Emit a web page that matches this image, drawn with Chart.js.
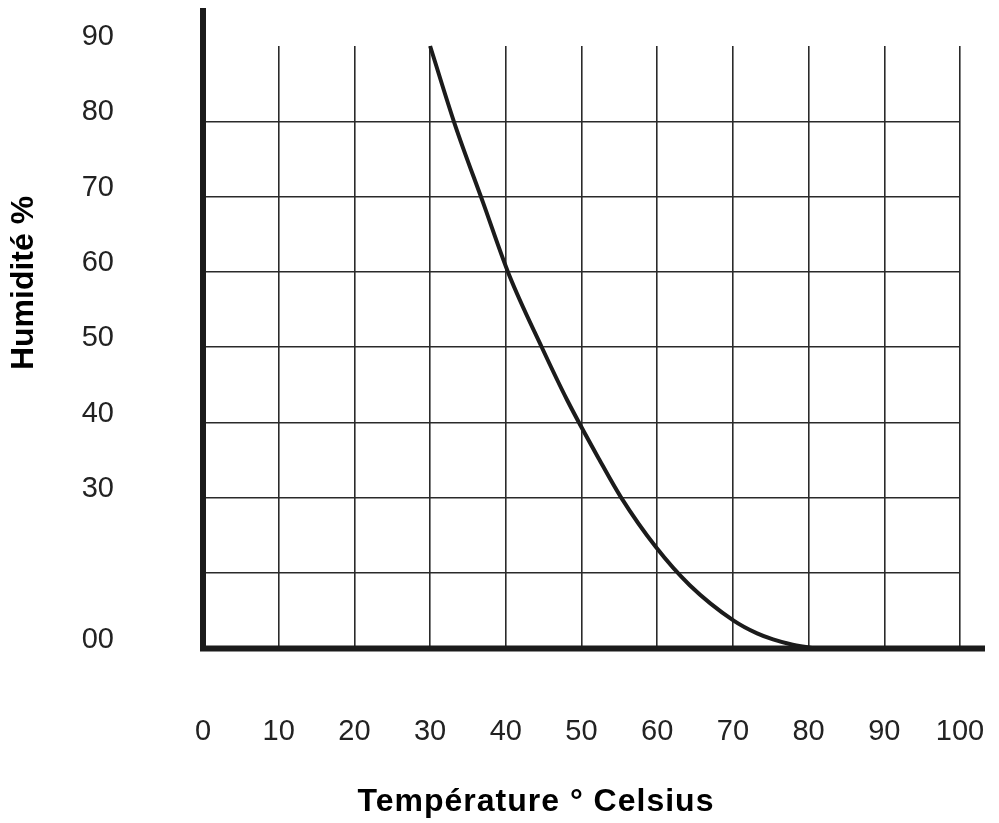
<!DOCTYPE html>
<html>
<head>
<meta charset="utf-8">
<script src="https://cdn.jsdelivr.net/npm/chart.js@4.4.1/dist/chart.umd.min.js"></script>
<style>
  html, body { margin: 0; padding: 0; background: #fff; }
  #wrap { width: 999px; height: 823px; }
</style>
</head>
<body>
<div id="wrap"><canvas id="myChart"></canvas></div>
<script>
// Curve: temperature (°C) -> humidity (%)
let aTemp = [30, 33.3, 37, 40.4, 44.8, 48.1, 52.4, 55.2, 59.8, 64.3, 70.1, 73.2, 75.3, 77.5, 80.7];
let aHumidity = [90, 79.5, 69.2, 59.7, 49.9, 43.0, 35.0, 30.1, 23.5, 18.4, 13.7, 12.0, 11.2, 10.6, 10];

// Tick values and the labels printed next to them
let aXTicks = [0, 10, 20, 30, 40, 50, 60, 70, 80, 90, 100];
let aXLabels = ['0', '10', '20', '30', '40', '50', '60', '70', '80', '90', '100'];
let aYTicks = [10, 20, 30, 40, 50, 60, 70, 80, 90];
let aYLabels = ['00', '', '30', '40', '50', '60', '70', '80', '90'];

let xTitle = 'Température ° Celsius';
let yTitle = 'Humidité %';

const ink = '#1b1b1b';
const tickFont = { family: "'Liberation Sans', Arial, sans-serif", size: 29 };

// thick axes running past the grid, plus the two axis titles
const axesPlugin = {
    id: 'axesPlugin',
    afterDraw(chart) {
        const ctx = chart.ctx;
        const xs = chart.scales.x;
        const ys = chart.scales.y;
        const x0 = xs.getPixelForValue(0);
        const y0 = ys.getPixelForValue(10);
        ctx.save();
        ctx.strokeStyle = ink;
        ctx.lineWidth = 6;
        ctx.lineCap = 'butt';
        ctx.beginPath();
        ctx.moveTo(x0, 8);
        ctx.lineTo(x0, y0 + 3);
        ctx.moveTo(x0 - 3, y0);
        ctx.lineTo(985, y0);
        ctx.stroke();

        ctx.fillStyle = '#000';
        ctx.font = "bold 32px 'Liberation Sans', Arial, sans-serif";
        ctx.textAlign = 'center';
        ctx.textBaseline = 'middle';
        ctx.letterSpacing = '1px';
        ctx.fillText(xTitle, 536, 802);
        ctx.letterSpacing = '0px';
        ctx.translate(24, 283);
        ctx.rotate(-Math.PI / 2);
        ctx.fillText(yTitle, 0, 0);
        ctx.restore();
    }
};

const ctx = document.getElementById('myChart').getContext('2d');
const myChart = new Chart(ctx, {
    type: 'line',
    data: {
        datasets: [{
            label: 'Humidité',
            data: aTemp.map((t, i) => ({ x: t, y: aHumidity[i] })),
            borderColor: ink,
            borderWidth: 4,
            pointRadius: 0,
            cubicInterpolationMode: 'monotone',
            fill: false,
            clip: false
        }]
    },
    options: {
        responsive: true,
        maintainAspectRatio: false,
        animation: false,
        layout: { padding: { top: 46, right: 39, left: 0, bottom: 0 } },
        scales: {
            x: {
                type: 'linear',
                min: 0,
                max: 100,
                afterBuildTicks: (axis) => { axis.ticks = aXTicks.map(v => ({ value: v })); },
                afterFit: (axis) => {
                    axis.height = 174.5;
                    axis.paddingLeft = 0;
                    axis.paddingRight = 0;
                },
                border: { display: false },
                grid: {
                    drawTicks: false,
                    lineWidth: 1.6,
                    color: (c) => (c.tick && c.tick.value === 0) ? 'rgba(0,0,0,0)' : '#2a2a2a'
                },
                ticks: {
                    padding: 66,
                    color: '#222',
                    font: tickFont,
                    maxRotation: 0,
                    autoSkip: false,
                    callback: (v) => aXLabels[aXTicks.indexOf(v)]
                }
            },
            y: {
                type: 'linear',
                min: 10,
                max: 90,
                afterBuildTicks: (axis) => { axis.ticks = aYTicks.map(v => ({ value: v })); },
                afterFit: (axis) => {
                    axis.width = 203;
                    axis.paddingTop = 0;
                    axis.paddingBottom = 0;
                },
                border: { display: false },
                grid: {
                    drawTicks: false,
                    lineWidth: 1.6,
                    color: (c) => (c.tick && (c.tick.value === 90 || c.tick.value === 10)) ? 'rgba(0,0,0,0)' : '#2a2a2a'
                },
                ticks: {
                    padding: 89,
                    labelOffset: -9,
                    color: '#222',
                    font: tickFont,
                    autoSkip: false,
                    callback: (v) => aYLabels[aYTicks.indexOf(v)]
                }
            }
        },
        plugins: {
            legend: { display: false },
            tooltip: { enabled: false }
        }
    },
    plugins: [axesPlugin]
});
</script>
</body>
</html>
